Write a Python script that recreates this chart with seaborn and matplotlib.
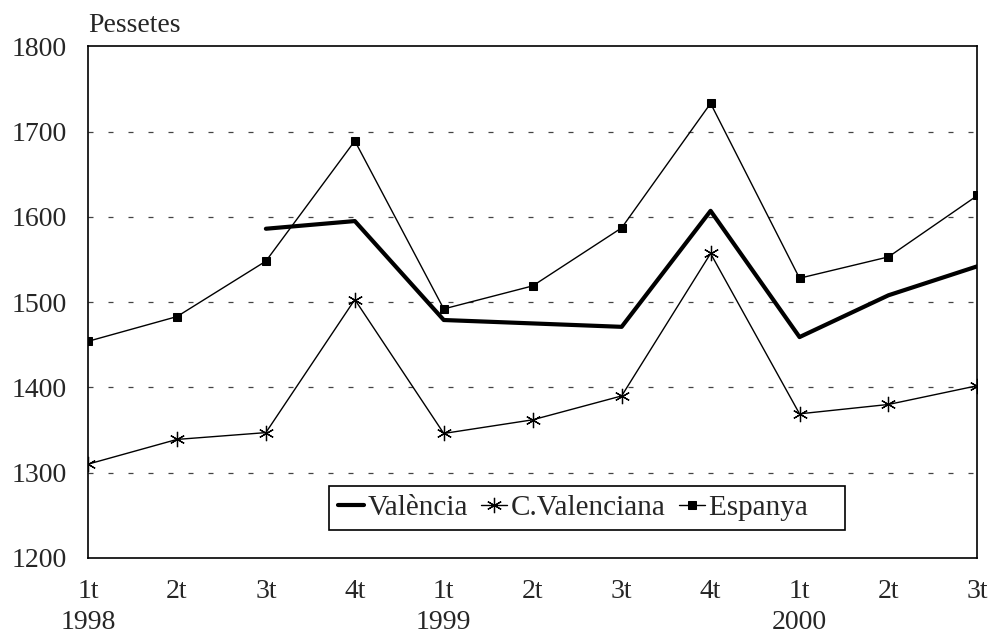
import numpy as np
import pandas as pd
import seaborn as sns
import matplotlib.pyplot as plt

# Data
quarters = ["1t\n1998", "2t", "3t", "4t", "1t\n1999", "2t", "3t", "4t", "1t\n2000", "2t", "3t"]
valencia = [np.nan, np.nan, 1586, 1595, 1479, 1475, 1471, 1607, 1459, 1508, 1542]
c_valenciana = [1310, 1339, 1347, 1503, 1346, 1362, 1390, 1557, 1369, 1380, 1402]
espanya = [1454, 1483, 1548, 1689, 1492, 1519, 1587, 1733, 1528, 1553, 1625]

sns.set_style("white")
plt.rcParams["font.family"] = ["Liberation Serif", "DejaVu Serif"]

df = pd.DataFrame({
    "pos": np.arange(len(quarters)),
    "València": valencia,
    "C.Valenciana": c_valenciana,
    "Espanya": espanya,
})

fig = plt.figure(figsize=(9.91, 6.33), dpi=100)
ax = fig.add_axes([0.0888, 0.1185, 0.8975, 0.8085])

sns.lineplot(data=df, x="pos", y="València", ax=ax, color="black", lw=3,
             label="València")
sns.lineplot(data=df, x="pos", y="C.Valenciana", ax=ax, color="black", lw=1,
             marker=(6, 2, 0), markersize=11, markeredgewidth=0.9,
             markeredgecolor="black", label="C.Valenciana")
sns.lineplot(data=df, x="pos", y="Espanya", ax=ax, color="black", lw=1,
             marker="s", markersize=6.3, markeredgecolor="black",
             label="Espanya" + " " * 4)

ax.set_xlim(0, 10)
ax.set_ylim(1200, 1800)
ax.set_yticks([1200, 1300, 1400, 1500, 1600, 1700, 1800])
ax.set_xticks(df["pos"])
ax.set_xticklabels(quarters, linespacing=1.3)
ax.tick_params(axis="y", length=0, labelsize=20, pad=15)
ax.tick_params(axis="x", length=0, labelsize=20, pad=15)
ax.set_xlabel("")
ax.set_ylabel("")

for y in [1300, 1400, 1500, 1600, 1700]:
    ax.axhline(y, color="#444444", lw=0.9, ls=(0, (4, 12)), zorder=0)

for s in ax.spines.values():
    s.set_color("black")
    s.set_linewidth(1.2)

ax.text(0, 1.027, "Pessetes", transform=ax.transAxes, fontsize=20,
        va="baseline", ha="left")

leg = ax.legend(loc="lower left", bbox_to_anchor=(0.271, 0.055), ncol=3, fontsize=21,
                frameon=True, fancybox=False, edgecolor="black", framealpha=1,
                handlelength=0.9, handletextpad=0.12, columnspacing=0.45,
                borderpad=0.3, borderaxespad=0)
leg.get_frame().set_linewidth(1.2)

fig.savefig("out.png", dpi=100)
